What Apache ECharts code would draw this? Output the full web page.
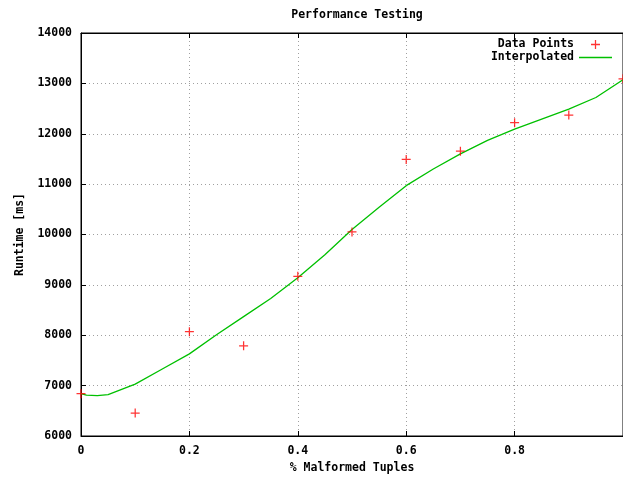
<!DOCTYPE html>
<html>
<head>
<meta charset="utf-8">
<script src="https://cdn.jsdelivr.net/npm/echarts@6/dist/echarts.min.js"></script>
<style>html,body{margin:0;padding:0;background:#fff}#c{width:623px;height:479px}</style>
</head>
<body>
<div id="c"></div>
<script>
var titleText = 'Performance Testing';
var xAxisName = '% Malformed Tuples';
var yAxisName = 'Runtime [ms]';
var xTicks = [0, 0.2, 0.4, 0.6, 0.8, 1];
var yTicks = [6000, 7000, 8000, 9000, 10000, 11000, 12000, 13000, 14000];

var pointX = [0, 0.1, 0.2, 0.3, 0.4, 0.5, 0.6, 0.7, 0.8, 0.9, 1.0];
var pointY = [6840, 6456, 8070, 7790, 9170, 10050, 11490, 11655, 12220, 12370, 13090];

var curveX = [0, 0.01, 0.03, 0.05, 0.1, 0.15, 0.2, 0.25, 0.3, 0.35, 0.4, 0.45, 0.5, 0.55, 0.6, 0.65, 0.7, 0.75, 0.8, 0.85, 0.9, 0.95, 1.0];
var curveY = [6840, 6810, 6800, 6820, 7030, 7330, 7630, 8010, 8370, 8730, 9140, 9600, 10100, 10540, 10970, 11300, 11600, 11870, 12090, 12290, 12490, 12720, 13070];

var FONT = 'DejaVu Sans Mono';
var plusPath = 'path://M4,0h1.3v4h4v1.3h-4v4h-1.3v-4h-4v-1.3h4z';
var linePath = 'path://M0,0h33v1.5h-33z';

var chart = echarts.init(document.getElementById('c'), null, {renderer: 'canvas'});
var gridDash = {color: '#a0a0a0', type: [1, 3], width: 1};
var txt = {fontFamily: FONT, fontWeight: 'bold', fontSize: 11.5, color: '#000'};

chart.setOption({
  animation: false,
  backgroundColor: '#fff',
  title: {
    text: titleText, left: 352, top: 4, textAlign: 'center',
    textStyle: {fontFamily: FONT, fontWeight: 'bold', fontSize: 11.5, color: '#000'}
  },
  legend: {
    orient: 'vertical', right: 6, top: 33, align: 'right',
    itemWidth: 33, itemHeight: 9, itemGap: 0,
    textStyle: Object.assign({lineHeight: 13}, txt),
    data: [
      {name: 'Data Points', icon: plusPath},
      {name: 'Interpolated', icon: linePath}
    ]
  },
  grid: {left: 81, right: -2, top: 33, bottom: 43, show: true, borderColor: '#000', borderWidth: 1},
  xAxis: [{
    type: 'value', min: 0, max: 1, interval: 0.2,
    name: xAxisName, nameLocation: 'middle', nameGap: 26, nameTextStyle: txt,
    axisLine: {show: true, lineStyle: {color: '#000'}},
    axisTick: {show: true, inside: true, length: 5, lineStyle: {color: '#000'}},
    axisLabel: Object.assign({margin: 9, showMaxLabel: false, formatter: function (v) { return xTicks.indexOf(v) >= 0 ? String(v) : ''; }}, txt),
    splitLine: {show: true, lineStyle: gridDash}
  }, {
    type: 'value', min: 0, max: 1, interval: 0.2, position: 'top',
    axisLine: {show: true, lineStyle: {color: '#000'}},
    axisTick: {show: true, inside: true, length: 5, lineStyle: {color: '#000'}},
    axisLabel: {show: false}, splitLine: {show: false}
  }],
  yAxis: [{
    type: 'value', min: 6000, max: 14000, interval: 1000,
    name: yAxisName, nameLocation: 'middle', nameGap: 52, nameRotate: 90, nameTextStyle: txt,
    axisLine: {show: true, lineStyle: {color: '#000'}},
    axisTick: {show: true, inside: true, length: 5, lineStyle: {color: '#000'}},
    axisLabel: Object.assign({margin: 9, formatter: function (v) { return yTicks.indexOf(v) >= 0 ? String(v) : ''; }}, txt),
    splitLine: {show: true, lineStyle: gridDash}
  }],
  series: [{
    name: 'Data Points', type: 'scatter',
    symbol: plusPath, symbolSize: 9,
    itemStyle: {color: '#ff0000'},
    data: pointX.map(function (x, i) { return [x, pointY[i]]; }),
    z: 3
  }, {
    name: 'Interpolated', type: 'line', showSymbol: false, symbol: 'none',
    lineStyle: {color: '#00c000', width: 1.3},
    itemStyle: {color: '#00c000'},
    data: curveX.map(function (x, i) { return [x, curveY[i]]; }),
    z: 2
  }]
});
</script>
</body>
</html>
